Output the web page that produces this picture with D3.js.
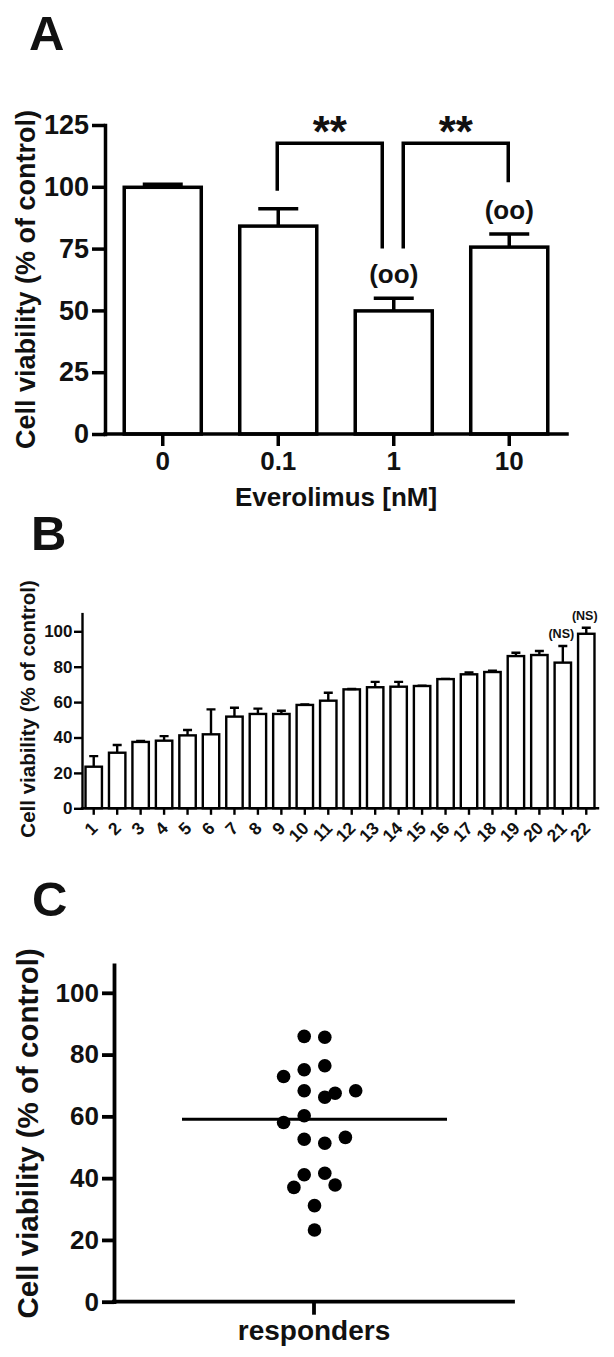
<!DOCTYPE html>
<html><head><meta charset="utf-8">
<script src="https://cdn.jsdelivr.net/npm/d3@7"></script>
<style>
html,body{margin:0;padding:0;background:#fff;}
svg{display:block;}
text{font-family:"Liberation Sans",Arial,Helvetica,sans-serif;font-weight:bold;fill:#111;}
</style></head><body>
<svg id="chart" width="614" height="1357"></svg>
<script>
// ---------- Panel A data ----------
const aDoses = ["0", "0.1", "1", "10"];
const aMeans = [99.8, 84.1, 49.8, 75.6];
const aSem = [1.2, 7.0, 5.1, 5.3];
const aMarks = ["", "", "(oo)", "(oo)"];
const aYTicks = [0, 25, 50, 75, 100, 125];
const aCompFrom = ["0.1", "1"];
const aCompTo = ["1", "10"];
const aCompLabel = ["**", "**"];
const aCompTop = [117.6, 117.6];
const aCompFromEnd = [98.4, 75.0];
const aCompToEnd = [75.0, 101.8];

// ---------- Panel B data ----------
const bPatients = ["1","2","3","4","5","6","7","8","9","10","11","12","13","14","15","16","17","18","19","20","21","22"];
const bMeans = [23.5, 31.4, 37.5, 38.2, 41.2, 41.8, 51.8, 53.3, 53.3, 58.4, 60.8, 67.2, 68.4, 68.7, 69.1, 73.0, 75.7, 77.0, 86.0, 86.6, 82.3, 98.6];
const bSem = [6.0, 4.4, 0.5, 2.6, 3.0, 14.1, 5.0, 3.0, 1.8, 0.3, 4.5, 0.2, 3.0, 2.7, 0.2, 0.1, 1.1, 0.8, 1.9, 2.3, 9.4, 3.4];
const bMarks = ["","","","","","","","","","","","","","","","","","","","","(NS)","(NS)"];
const bYTicks = [0, 20, 40, 60, 80, 100];

// ---------- Panel C data ----------
const cGroups = ["responders"];
const cValues = [85.9, 85.6, 75.1, 76.4, 72.9, 68.3, 66.2, 67.5, 68.3, 60.2, 58.0, 52.6, 51.3, 53.2, 41.1, 41.6, 37.0, 37.8, 31.1, 23.2];
const cSlots = [-1, 1, -1, 1, -3, -1, 1, 2, 4, -1, -3, -1, 1, 3, -1, 1, -2, 2, 0, 0];
const cYTicks = [0, 20, 40, 60, 80, 100];

const yLabel = "Cell viability (% of control)";

const svg = d3.select("#chart");
svg.append("rect").attr("width", 614).attr("height", 1357).attr("fill", "#fff");

function styleAxis(g, fs, sw) {
  g.attr("font-family", null).attr("font-size", null);
  g.select(".domain").attr("stroke", "#000").attr("stroke-width", sw).attr("stroke-linecap", "square");
  g.selectAll(".tick line").attr("stroke", "#000").attr("stroke-width", sw);
  g.selectAll(".tick text").style("font-size", fs + "px").attr("fill", "#111");
}

// ================= Panel A =================
{
  const x = d3.scaleBand().domain(aDoses).range([105, 567]).paddingInner(0.333).paddingOuter(0.1665);
  const y = d3.scaleLinear().domain([0, 125]).range([434, 125]);
  const g = svg.append("g");
  const cx = d => x(d) + x.bandwidth() / 2;
  const sw = 3.5;

  g.selectAll("rect.bar").data(aDoses).join("rect").attr("class", "bar")
    .attr("x", d => x(d)).attr("width", x.bandwidth())
    .attr("y", (d, i) => y(aMeans[i])).attr("height", (d, i) => y(0) - y(aMeans[i]))
    .attr("fill", "#fff").attr("stroke", "#000").attr("stroke-width", sw);

  g.selectAll("path.err").data(aDoses).join("path").attr("class", "err")
    .attr("d", (d, i) => `M${cx(d)},${y(aMeans[i])}V${y(aMeans[i] + aSem[i])}M${cx(d) - 20},${y(aMeans[i] + aSem[i])}H${cx(d) + 20}`)
    .attr("fill", "none").attr("stroke", "#000").attr("stroke-width", sw);

  g.selectAll("text.mark").data(aDoses).join("text").attr("class", "mark")
    .attr("x", d => cx(d)).attr("y", (d, i) => y(aMeans[i] + aSem[i]) - 15.5)
    .attr("text-anchor", "middle").style("font-size", "26px")
    .text((d, i) => aMarks[i]);

  const shared = d => aCompFrom.includes(d) && aCompTo.includes(d);
  const gap = 10.5;
  aCompFrom.forEach((f, i) => {
    const t = aCompTo[i];
    const x1 = cx(f) - 1 + (shared(f) ? gap : 0);
    const x2 = cx(t) - 1 - (shared(t) ? gap : 0);
    g.append("path")
      .attr("d", `M${x1},${y(aCompFromEnd[i])}V${y(aCompTop[i])}H${x2}V${y(aCompToEnd[i])}`)
      .attr("fill", "none").attr("stroke", "#000").attr("stroke-width", sw).attr("stroke-linejoin", "miter");
    g.append("text").attr("x", (x1 + x2) / 2).attr("y", y(aCompTop[i]) + 4)
      .attr("text-anchor", "middle").style("font-size", "44px").text(aCompLabel[i]);
  });

  const gy = g.append("g").attr("transform", "translate(105,0)")
    .call(d3.axisLeft(y).tickValues(aYTicks).tickSize(13).tickPadding(3).tickSizeOuter(0));
  styleAxis(gy, 27, sw);
  const gx = g.append("g").attr("transform", "translate(0,434)")
    .call(d3.axisBottom(x).tickSize(12).tickPadding(5.5).tickSizeOuter(0));
  styleAxis(gx, 26, sw);
  gx.select(".domain").attr("d", "M105,0H567");

  g.append("text").attr("transform", `translate(35,${(y(0) + y(125)) / 2}) rotate(-90)`)
    .attr("text-anchor", "middle").style("font-size", "27px").text(yLabel);
  g.append("text").attr("x", 336).attr("y", 506).attr("text-anchor", "middle")
    .style("font-size", "26px").text("Everolimus [nM]");
  g.append("text").attr("x", 29).attr("y", 50).style("font-size", "49px").text("A");
}

// ================= Panel B =================
{
  const x = d3.scaleBand().domain(bPatients).range([82, 598]).paddingInner(0.3).paddingOuter(0.15);
  const y = d3.scaleLinear().domain([0, 110]).range([808.3, 613.6]);
  const g = svg.append("g");
  const cx = d => x(d) + x.bandwidth() / 2;
  const sw = 2.4;

  g.selectAll("rect.bar").data(bPatients).join("rect").attr("class", "bar")
    .attr("x", d => x(d)).attr("width", x.bandwidth())
    .attr("y", (d, i) => y(bMeans[i])).attr("height", (d, i) => y(0) - y(bMeans[i]))
    .attr("fill", "#fff").attr("stroke", "#000").attr("stroke-width", sw);

  g.selectAll("path.err").data(bPatients).join("path").attr("class", "err")
    .attr("d", (d, i) => `M${cx(d)},${y(bMeans[i])}V${y(bMeans[i] + bSem[i])}M${cx(d) - 4.5},${y(bMeans[i] + bSem[i])}H${cx(d) + 4.5}`)
    .attr("fill", "none").attr("stroke", "#000").attr("stroke-width", sw);

  g.selectAll("text.mark").data(bPatients).join("text").attr("class", "mark")
    .attr("x", d => cx(d) - 1.5).attr("y", (d, i) => y(bMeans[i] + bSem[i]) - 7.5)
    .attr("text-anchor", "middle").style("font-size", "12.5px")
    .text((d, i) => bMarks[i]);

  const gy = g.append("g").attr("transform", "translate(82,0)")
    .call(d3.axisLeft(y).tickValues(bYTicks).tickSize(8).tickPadding(1.5).tickSizeOuter(0));
  styleAxis(gy, 17, sw);
  const gx = g.append("g").attr("transform", "translate(0,808.3)")
    .call(d3.axisBottom(x).tickSize(6.5).tickSizeOuter(0));
  styleAxis(gx, 17.5, sw);
  gx.select(".domain").attr("d", "M82,0H598");
  gx.selectAll(".tick text").attr("x", 0).attr("y", 0).attr("dy", 0)
    .attr("text-anchor", "end").attr("transform", "translate(5,21) rotate(-45)");

  g.append("text").attr("transform", `translate(35,${(y(0) + y(110)) / 2 - 2}) rotate(-90)`)
    .attr("text-anchor", "middle").style("font-size", "20.5px").text(yLabel);
  g.append("text").attr("x", 31).attr("y", 550).style("font-size", "49px").text("B");
}

// ================= Panel C =================
{
  const x = d3.scalePoint().domain(cGroups).range([114, 513]).padding(0.5);
  const y = d3.scaleLinear().domain([0, 109]).range([1301.7, 965]);
  const g = svg.append("g");
  const sw = 3.8;
  const slot = d3.scaleLinear().domain([0, 1]).range([0, 10.3]);
  const c0 = x(cGroups[0]) + 1;
  const med = d3.median(cValues);

  g.append("line").attr("x1", c0 - 132.5).attr("x2", c0 + 132.5)
    .attr("y1", y(med)).attr("y2", y(med)).attr("stroke", "#000").attr("stroke-width", 3);

  g.selectAll("circle").data(cValues).join("circle")
    .attr("cx", (d, i) => c0 + slot(cSlots[i])).attr("cy", d => y(d)).attr("r", 6.8)
    .attr("fill", "#000");

  const gy = g.append("g").attr("transform", "translate(114,0)")
    .call(d3.axisLeft(y).tickValues(cYTicks).tickSize(12).tickPadding(3).tickSizeOuter(0));
  styleAxis(gy, 26, sw);
  const gx = g.append("g").attr("transform", "translate(0,1301.7)")
    .call(d3.axisBottom(x).tickSize(13).tickPadding(5.4).tickSizeOuter(0));
  styleAxis(gx, 28, sw);
  gx.select(".domain").attr("d", "M114,0H513");

  g.append("text").attr("transform", `translate(38,${(y(0) + y(109)) / 2}) rotate(-90)`)
    .attr("text-anchor", "middle").style("font-size", "29.5px").text(yLabel);
  g.append("text").attr("x", 32).attr("y", 916).style("font-size", "49px").text("C");
}
</script>
</body></html>
